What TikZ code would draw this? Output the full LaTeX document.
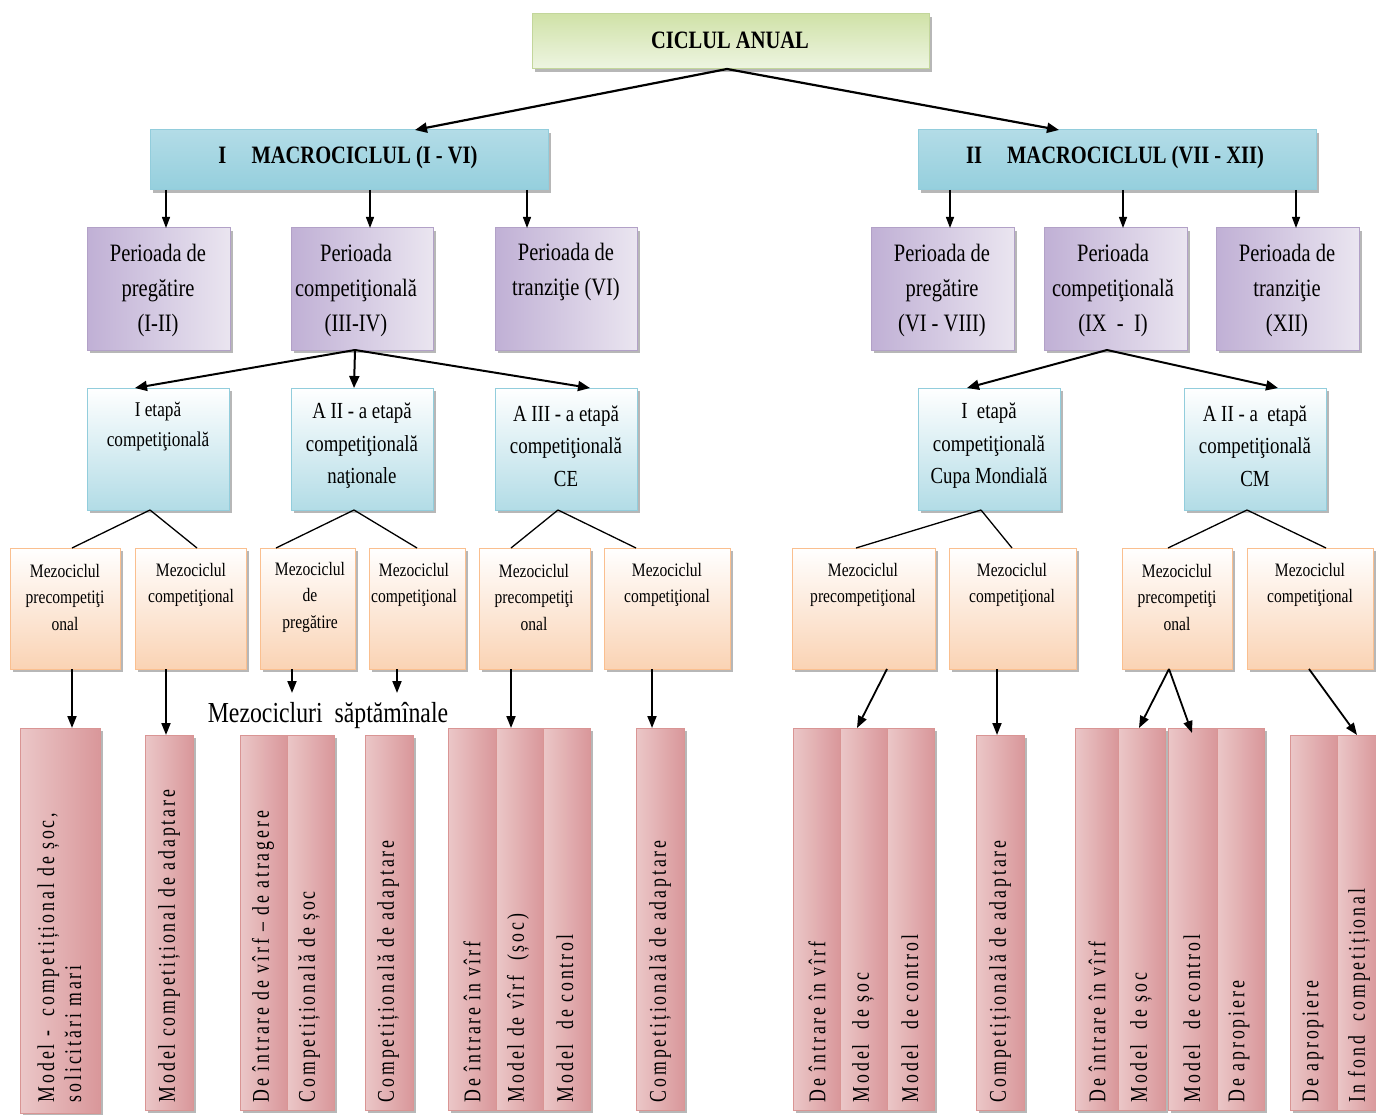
\documentclass[tikz,border=0pt]{standalone}
\usepackage{fontspec}
\setmainfont{Liberation Serif}[FakeStretch=0.82]
\newfontfamily\vf{Liberation Serif}[FakeStretch=0.74,LetterSpace=12]
\usetikzlibrary{arrows.meta,shadows}
\definecolor{grT}{HTML}{D0E2A8}
\definecolor{grB}{HTML}{EEF5E2}
\definecolor{grD}{HTML}{C3D69B}
\definecolor{blT}{HTML}{B3DCE7}
\definecolor{blM}{HTML}{E6F4F8}
\definecolor{blB}{HTML}{95CFDD}
\definecolor{blD}{HTML}{92CDDC}
\definecolor{puL}{HTML}{C0B0D5}
\definecolor{puR}{HTML}{EAE5F0}
\definecolor{puD}{HTML}{B2A1C7}
\definecolor{etB}{HTML}{B2DCE6}
\definecolor{orB}{HTML}{FAD3B4}
\definecolor{orD}{HTML}{FABF8F}
\definecolor{piL}{HTML}{EBC7C8}
\definecolor{piM}{HTML}{F2DCDD}
\definecolor{piR}{HTML}{D9979A}
\definecolor{piD}{HTML}{D99594}
\tikzset{
  sh/.style={drop shadow={shadow xshift=3pt,shadow yshift=-3pt,fill=black!40,opacity=0.7}},
  base/.style={inner sep=0pt,outer sep=0pt,sh},
  gbox/.style={base,draw=grD,line width=1pt,top color=grT,bottom color=grB},
  mbox/.style={base,draw=blD,line width=1pt,top color=blT,middle color=blM,bottom color=blB},
  pbox/.style={base,draw=puD,line width=1pt,left color=puL,right color=puR},
  ebox/.style={base,draw=blD,line width=1pt,top color=white,bottom color=etB},
  obox/.style={base,draw=orD,line width=1pt,top color=white,bottom color=orB},
  sbox/.style={base,draw=piD,line width=1pt,left color=piL,middle color=piM,right color=piR},
  txt/.style={inner sep=0pt,outer sep=0pt,align=center},
  ftop/.style={txt,font={\fontsize{25}{28}\selectfont\bfseries}},
  fmac/.style={txt,font={\fontsize{25}{30}\selectfont\bfseries}},
  fper/.style={txt,font={\fontsize{25}{35}\selectfont}},
  fetA/.style={txt,font={\fontsize{21}{30}\selectfont}},
  fet/.style={txt,font={\fontsize{23}{32.5}\selectfont}},
  fmz/.style={txt,font={\fontsize{19}{26.5}\selectfont}},
  fms/.style={txt,font={\fontsize{29}{34}\selectfont}},
  vt/.style={inner sep=0pt,outer sep=0pt,align=left,rotate=90,anchor=west,font={\vf\fontsize{24}{27}\selectfont}},
  arrA/.style={line width=2.2pt,-{Triangle[length=12pt,width=10pt]}},
  arrB/.style={line width=1.3pt,-{Triangle[length=11pt,width=8pt]}},
  arrC/.style={line width=1.8pt,-{Triangle[length=12pt,width=9pt]}},
  lnC/.style={line width=1.3pt}
}
\newcommand\mkbox[6]{\node[#2,minimum width={(#5-#3)*1pt},minimum height={(#6-#4)*1pt}] (#1) at ({(#3+#5)/2},{(#4+#6)/2}) {};}
\begin{document}
\begin{tikzpicture}[x=1pt,y=-1pt]
\useasboundingbox (0,0) rectangle (1376,1115);
% top
\mkbox{ciclu}{gbox}{532}{14}{929}{69}
\node[ftop] (tciclu) at (730,40) {CICLUL ANUAL};
\mkbox{mac1}{mbox}{150}{130}{548}{190}
\node[fmac] (tmac1) at (348,157) {I\hspace{0.8em} MACROCICLUL (I - VI)};
\mkbox{mac2}{mbox}{918}{130}{1316}{190}
\node[fmac] (tmac2) at (1115,157) {II\hspace{0.8em} MACROCICLUL (VII - XII)};
\draw[arrA] (ciclu.south -| 727,0) -- (mac1.north -| 415,0);
\draw[arrA] (ciclu.south -| 727,0) -- (mac2.north -| 1059,0);
% periods
\mkbox{p1}{pbox}{87}{228}{230}{350}
\mkbox{p2}{pbox}{291}{228}{433}{350}
\mkbox{p3}{pbox}{495}{228}{637}{350}
\mkbox{p4}{pbox}{871}{228}{1014}{350}
\mkbox{p5}{pbox}{1044}{228}{1187}{350}
\mkbox{p6}{pbox}{1216}{228}{1359}{350}
\node[fper] (tp1) at (158,290) {Perioada de\\pregătire\\(I-II)};
\node[fper] (tp2) at (356,290) {Perioada\\competiţională\\(III-IV)};
\node[fper] (tp3) at (566,272) {Perioada de\\tranziţie (VI)};
\node[fper] (tp4) at (942,290) {Perioada de\\pregătire\\(VI - VIII)};
\node[fper] (tp5) at (1113,290) {Perioada\\competiţională\\(IX\ \ -\ \ I)};
\node[fper] (tp6) at (1287,290) {Perioada de\\tranziţie\\(XII)};
\foreach \m/\p/\x in {mac1/p1/166,mac1/p2/370,mac1/p3/527,mac2/p4/950,mac2/p5/1123,mac2/p6/1296}
  \draw[arrB] (\m.south -| \x,0) -- (\p.north -| \x,0);
% etape
\mkbox{e1}{ebox}{87}{388}{229}{510}
\mkbox{e2}{ebox}{291}{388}{433}{510}
\mkbox{e3}{ebox}{495}{388}{637}{510}
\mkbox{e4}{ebox}{918}{388}{1060}{510}
\mkbox{e5}{ebox}{1184}{388}{1326}{510}
\node[fetA] (te1) at (158,427) {I etapă\\competiţională};
\node[fet] (te2) at (362,446) {A II - a etapă\\competiţională\\naţionale};
\node[fet] (te3) at (566,446) {A III - a etapă\\competiţională\\CE};
\node[fet] (te4) at (989,446) {I\ \ etapă\\competiţională\\Cupa Mondială};
\node[fet] (te5) at (1255,446) {A II - a\ \ etapă\\competiţională\\CM};
\foreach \e/\x in {e1/135,e2/354,e3/590}
  \draw[arrA,line width=2pt] (p2.south -| 355,0) -- (\e.north -| \x,0);
\foreach \e/\x in {e4/967,e5/1278}
  \draw[arrA,line width=2pt] (p5.south -| 1107,0) -- (\e.north -| \x,0);
% mezocicluri
\mkbox{b1}{obox}{10}{548}{120}{669}
\mkbox{b2}{obox}{135}{548}{246}{669}
\mkbox{b3}{obox}{260}{548}{355}{669}
\mkbox{b4}{obox}{369}{548}{465}{669}
\mkbox{b5}{obox}{479}{548}{590}{669}
\mkbox{b6}{obox}{604}{548}{730}{669}
\mkbox{b7}{obox}{792}{548}{935}{669}
\mkbox{b8}{obox}{949}{548}{1076}{669}
\mkbox{b9}{obox}{1122}{548}{1232}{669}
\mkbox{b10}{obox}{1247}{548}{1373}{669}
\node[fmz] (tb1) at (65,597) {Mezociclul\\precompetiţi\\onal};
\node[fmz] (tb2) at (191,585) {Mezociclul\\competiţional};
\node[fmz] (tb3) at (310,597) {Mezociclul\\de\\pregătire};
\node[fmz] (tb4) at (414,585) {Mezociclul\\competiţional};
\node[fmz] (tb5) at (534,597) {Mezociclul\\precompetiţi\\onal};
\node[fmz] (tb6) at (667,585) {Mezociclul\\competiţional};
\node[fmz] (tb7) at (863,585) {Mezociclul\\precompetiţional};
\node[fmz] (tb8) at (1012,585) {Mezociclul\\competiţional};
\node[fmz] (tb9) at (1177,597) {Mezociclul\\precompetiţi\\onal};
\node[fmz] (tb10) at (1310,585) {Mezociclul\\competiţional};
\foreach \e/\a/\b/\xa/\xb/\xc in {e1/b1/b2/150/72/197,e2/b3/b4/354/276/417,e3/b5/b6/558/511/636,e4/b7/b8/981/856/1012,e5/b9/b10/1247/1168/1326}{
  \draw[lnC] (\e.south -| \xa,0) -- (\a.north -| \xb,0);
  \draw[lnC] (\e.south -| \xa,0) -- (\b.north -| \xc,0);
}
% strips
\mkbox{s1}{sbox}{20}{728}{100}{1113}
\mkbox{s2}{sbox}{145}{735}{193}{1110}
\mkbox{s3a}{sbox}{240}{735}{287}{1110}
\mkbox{s3b}{sbox}{287}{735}{334}{1110}
\mkbox{s4}{sbox}{365}{735}{413}{1110}
\mkbox{s5a}{sbox}{448}{728}{496}{1110}
\mkbox{s5b}{sbox}{496}{728}{543}{1110}
\mkbox{s5c}{sbox}{543}{728}{590}{1110}
\mkbox{s6}{sbox}{636}{728}{684}{1110}
\mkbox{s7a}{sbox}{793}{728}{840}{1110}
\mkbox{s7b}{sbox}{840}{728}{887}{1110}
\mkbox{s7c}{sbox}{887}{728}{934}{1110}
\mkbox{s8}{sbox}{976}{735}{1024}{1110}
\mkbox{s9a}{sbox}{1075}{728}{1118}{1110}
\mkbox{s9b}{sbox}{1118}{728}{1165}{1110}
\mkbox{s9c}{sbox}{1168}{728}{1217}{1110}
\mkbox{s9d}{sbox}{1217}{728}{1264}{1110}
\mkbox{s10a}{sbox}{1290}{735}{1337}{1110}
\mkbox{s10b}{sbox}{1337}{735}{1378}{1110}
\node[vt] (ts1) at (59.5,1102) {Model -\ \ competițional de șoc,\\solicitări mari};
\node[vt] (ts2) at (169,1102) {Model competițional de adaptare};
\node[vt] (ts3a) at (263,1102) {De întrare de vîrf – de atragere};
\node[vt] (ts3b) at (309,1102) {Competițională de șoc};
\node[vt] (ts4) at (388,1102) {Competițională de adaptare};
\node[vt] (ts5a) at (472,1102) {De întrare în vîrf};
\node[vt] (ts5b) at (518,1102) {Model de vîrf\ \ (șoc)};
\node[vt] (ts5c) at (565,1102) {Model\ \ de control};
\node[vt] (ts6) at (660,1102) {Competițională de adaptare};
\node[vt] (ts7a) at (817,1102) {De întrare în vîrf};
\node[vt] (ts7b) at (863,1102) {Model\ \ de șoc};
\node[vt] (ts7c) at (910,1102) {Model\ \ de control};
\node[vt] (ts8) at (1000,1102) {Competițională de adaptare};
\node[vt] (ts9a) at (1097,1102) {De întrare în vîrf};
\node[vt] (ts9b) at (1141,1102) {Model\ \ de șoc};
\node[vt] (ts9c) at (1192,1102) {Model\ \ de control};
\node[vt] (ts9d) at (1239,1102) {De apropiere};
\node[vt] (ts10a) at (1313,1102) {De apropiere};
\node[vt] (ts10b) at (1359,1102) {In fond\ \ competițional};
% mezocicluri saptaminale
\node[fms] (mzs) at (328,715) {Mezocicluri\ \ săptămînale};
\coordinate (m3) at (292,693);
\coordinate (m4) at (397,693);
\draw[arrC] (b3.south -| 292,0) -- (m3);
\draw[arrC] (b4.south -| 397,0) -- (m4);
% arrows to strips
\draw[arrC] (b1.south -| 72,0) -- (s1.north -| 72,0);
\draw[arrC] (b2.south -| 166,0) -- (s2.north -| 166,0);
\draw[arrC] (b5.south -| 511,0) -- (s5b.north -| 511,0);
\draw[arrC] (b6.south -| 652,0) -- (s6.north -| 652,0);
\draw[arrC] (b7.south -| 887,0) -- (s7b.north -| 857,0);
\draw[arrC] (b8.south -| 997,0) -- (s8.north -| 997,0);
\draw[arrC] (b9.south -| 1169,0) -- (s9b.north -| 1139,0);
\draw[arrC] (b9.south -| 1169,0) -- (1192,733);
\draw[arrC] (b10.south -| 1309,0) -- (s10b.north -| 1357,0);
\end{tikzpicture}
\end{document}
